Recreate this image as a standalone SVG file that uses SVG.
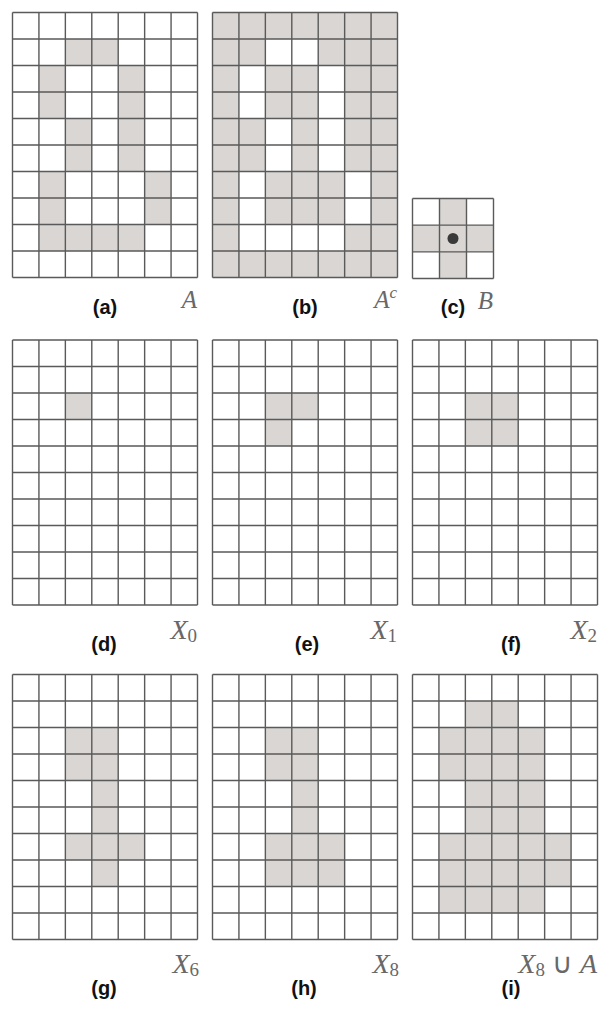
<svg xmlns="http://www.w3.org/2000/svg" xmlns:xlink="http://www.w3.org/1999/xlink" width="599" height="1009" viewBox="0 0 599 1009">
<style>
.fill{fill:#d9d6d3}
.wh{fill:#ffffff}
.grid{fill:none;stroke:#5a5a5a;stroke-width:1.4}
.lab{font-family:"Liberation Sans",Arial,sans-serif;font-weight:bold;font-size:20px;fill:#111;text-anchor:middle}
.math{font-family:"Liberation Serif","Times New Roman",serif;font-style:italic;font-size:25px;fill:#686868;text-anchor:end}
.mx{font-size:28px}
.sub{font-style:normal;font-size:19px}
.up{font-style:normal}
</style>
<defs>
<path id="g710" class="grid" d="M0,0V265M26.43,0V265M52.86,0V265M79.29,0V265M105.71,0V265M132.14,0V265M158.57,0V265M185,0V265M0,0H185M0,26.5H185M0,53H185M0,79.5H185M0,106H185M0,132.5H185M0,159H185M0,185.5H185M0,212H185M0,238.5H185M0,265H185"/>
<path id="g33" class="grid" d="M0,0V80M27,0V80M54,0V80M81,0V80M0,0H81M0,26.67H81M0,53.33H81M0,80H81"/>
</defs>
<rect width="599" height="1009" fill="#ffffff"/>

<g id="panel-a" transform="translate(12.5,12.5)">
<rect class="fill" x="52.86" y="26.5" width="52.86" height="26.5"/>
<rect class="fill" x="26.43" y="53" width="26.43" height="53"/>
<rect class="fill" x="105.71" y="53" width="26.43" height="106"/>
<rect class="fill" x="52.86" y="106" width="26.43" height="53"/>
<rect class="fill" x="26.43" y="159" width="26.43" height="79.5"/>
<rect class="fill" x="132.14" y="159" width="26.43" height="53"/>
<rect class="fill" x="52.86" y="212" width="79.29" height="26.5"/>
<use xlink:href="#g710"/>
</g>

<g id="panel-b" transform="translate(212.5,12.5)">
<rect class="fill" x="0" y="0" width="185" height="265"/>
<rect class="wh" x="52.86" y="26.5" width="52.86" height="26.5"/>
<rect class="wh" x="26.43" y="53" width="26.43" height="53"/>
<rect class="wh" x="105.71" y="53" width="26.43" height="106"/>
<rect class="wh" x="52.86" y="106" width="26.43" height="53"/>
<rect class="wh" x="26.43" y="159" width="26.43" height="79.5"/>
<rect class="wh" x="132.14" y="159" width="26.43" height="53"/>
<rect class="wh" x="52.86" y="212" width="79.29" height="26.5"/>
<use xlink:href="#g710"/>
</g>

<g id="panel-c" transform="translate(412.5,198.5)">
<rect class="fill" x="27" y="0" width="27" height="80"/>
<rect class="fill" x="0" y="26.67" width="81" height="26.67"/>
<use xlink:href="#g33"/>
<circle cx="40.5" cy="40" r="5.5" fill="#3a3a3a"/>
</g>

<g id="panel-d" transform="translate(12.5,340)">
<rect class="fill" x="52.86" y="53" width="26.43" height="26.5"/>
<use xlink:href="#g710"/>
</g>

<g id="panel-e" transform="translate(212.5,340)">
<rect class="fill" x="52.86" y="53" width="52.86" height="26.5"/>
<rect class="fill" x="52.86" y="79.5" width="26.43" height="26.5"/>
<use xlink:href="#g710"/>
</g>

<g id="panel-f" transform="translate(412.5,340)">
<rect class="fill" x="52.86" y="53" width="52.86" height="53"/>
<use xlink:href="#g710"/>
</g>

<g id="panel-g" transform="translate(12.5,674.5)">
<rect class="fill" x="52.86" y="53" width="52.86" height="53"/>
<rect class="fill" x="79.29" y="106" width="26.43" height="106"/>
<rect class="fill" x="52.86" y="159" width="79.29" height="26.5"/>
<use xlink:href="#g710"/>
</g>

<g id="panel-h" transform="translate(212.5,674.5)">
<rect class="fill" x="52.86" y="53" width="52.86" height="53"/>
<rect class="fill" x="79.29" y="106" width="26.43" height="53"/>
<rect class="fill" x="52.86" y="159" width="79.29" height="53"/>
<use xlink:href="#g710"/>
</g>

<g id="panel-i" transform="translate(412.5,674.5)">
<rect class="fill" x="52.86" y="26.5" width="52.86" height="26.5"/>
<rect class="fill" x="26.43" y="53" width="105.71" height="53"/>
<rect class="fill" x="52.86" y="106" width="79.29" height="53"/>
<rect class="fill" x="26.43" y="159" width="132.14" height="53"/>
<rect class="fill" x="26.43" y="212" width="105.71" height="26.5"/>
<use xlink:href="#g710"/>
</g>

<g id="labels">
<text class="lab" x="105" y="314">(a)</text>
<text class="math" x="197" y="308">A</text>
<text class="lab" x="305" y="314">(b)</text>
<text class="math" x="397" y="308">A<tspan font-size="17px" dy="-10">c</tspan></text>
<text class="lab" x="453" y="314">(c)</text>
<text class="math" x="493" y="309">B</text>
<text class="lab" x="104" y="651">(d)</text>
<text class="math mx" x="197" y="639">X<tspan class="sub" dy="3">0</tspan></text>
<text class="lab" x="307" y="651">(e)</text>
<text class="math mx" x="397" y="639">X<tspan class="sub" dy="3">1</tspan></text>
<text class="lab" x="511" y="651">(f)</text>
<text class="math mx" x="597" y="639">X<tspan class="sub" dy="3">2</tspan></text>
<text class="lab" x="104" y="995">(g)</text>
<text class="math mx" x="199" y="973">X<tspan class="sub" dy="3">6</tspan></text>
<text class="lab" x="304" y="995">(h)</text>
<text class="math mx" x="399" y="973">X<tspan class="sub" dy="3">8</tspan></text>
<text class="lab" x="511" y="995">(i)</text>
<text class="math mx" x="597" y="973">X<tspan class="sub" dy="3">8</tspan><tspan class="up" dy="-3"> ∪ </tspan>A</text>
</g>
</svg>
